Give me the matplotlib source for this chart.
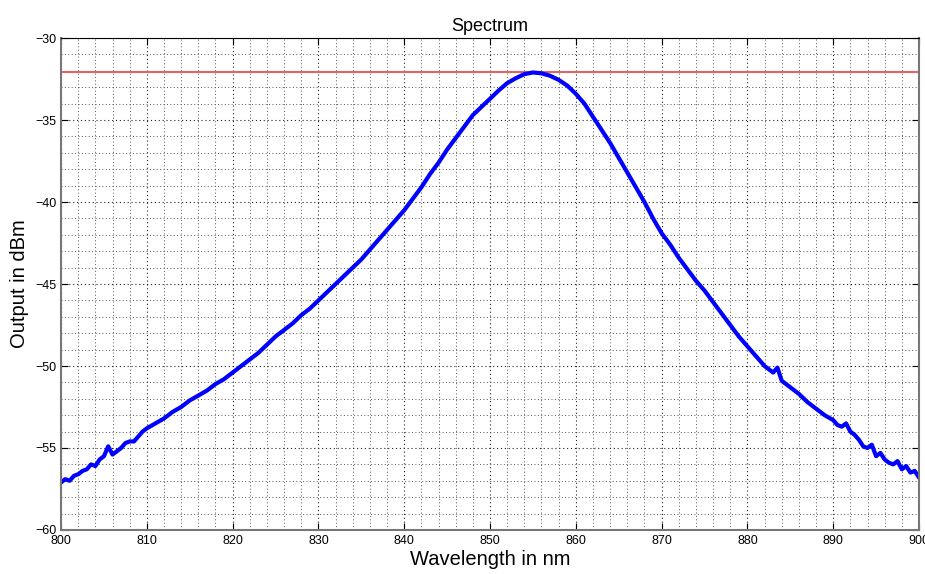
import numpy as np
from matplotlib import pyplot as plt
from matplotlib.ticker import MultipleLocator

wavelength = [800, 800.5, 801, 801.5, 802, 802.5, 803, 803.5, 804, 804.5, 805, 805.5, 806, 806.5,
              807, 807.5, 808, 808.5, 809, 809.5, 810, 811, 812, 813, 814, 815, 816, 817, 818, 819,
              820, 821, 822, 823, 824, 825, 826, 827, 828, 829, 830, 831, 832, 833, 834, 835,
              836, 837, 838, 839, 840, 841, 842, 843, 844, 845, 846, 847, 848, 849, 850, 851,
              852, 853, 854, 855, 856, 857, 858, 859, 860, 861, 862, 863, 864, 865, 866, 867,
              868, 869, 870, 871, 872, 873, 874, 875, 876, 877, 878, 879, 880, 881, 882, 883,
              883.5, 884, 885, 886, 887, 888, 889, 890, 890.5, 891, 891.5, 892, 892.5, 893, 893.5,
              894, 894.5, 895, 895.5, 896, 896.5, 897, 897.5, 898, 898.5, 899, 899.5, 900]
power_dbm = [-57.1, -56.9, -57.0, -56.7, -56.6, -56.4, -56.3, -56.0, -56.1, -55.7, -55.5, -54.9, -55.4, -55.2,
             -55.0, -54.7, -54.6, -54.6, -54.3, -54.0, -53.8, -53.5, -53.2, -52.8, -52.5, -52.1, -51.8, -51.5,
             -51.1, -50.8, -50.4, -50.0, -49.6, -49.2, -48.7, -48.2, -47.8, -47.4, -46.9, -46.5, -46.0,
             -45.5, -45.0, -44.5, -44.0, -43.5, -42.9, -42.3, -41.7, -41.1, -40.5, -39.8, -39.1, -38.3,
             -37.6, -36.8, -36.1, -35.4, -34.7, -34.2, -33.7, -33.2, -32.75, -32.45, -32.2, -32.1, -32.15,
             -32.3, -32.55, -32.9, -33.4, -34.0, -34.8, -35.6, -36.4, -37.3, -38.2, -39.1, -40.0, -41.0,
             -41.9, -42.6, -43.4, -44.1, -44.8, -45.4, -46.1, -46.8, -47.5, -48.2, -48.8, -49.4, -50.0,
             -50.4, -50.1, -50.9, -51.3, -51.7, -52.2, -52.6, -53.0, -53.3, -53.6, -53.7, -53.5, -54.0,
             -54.2, -54.5, -54.9, -55.0, -54.8, -55.5, -55.3, -55.7, -55.9, -56.0, -55.8, -56.3, -56.1,
             -56.5, -56.4, -56.8]
reference_level = -32.1

plt.rcParams.update({"font.family": "Liberation Sans", "font.size": 8})
fig = plt.figure(figsize=(9.25, 5.74), dpi=100)
ax = fig.add_axes([0.066, 0.0767, 0.9275, 0.857])

ax.axhline(reference_level, color='#e06666', lw=1.5)
ax.plot(wavelength, power_dbm, color='#0000ff', lw=3)

ax.set_xlim(800, 900)
ax.set_ylim(-60, -30)
ax.xaxis.set_major_locator(MultipleLocator(10))
ax.xaxis.set_minor_locator(MultipleLocator(2))
ax.yaxis.set_major_locator(MultipleLocator(5))
ax.yaxis.set_minor_locator(MultipleLocator(1))
ax.tick_params(which='major', direction='in', length=5, top=True, right=True, labelsize=9)
ax.tick_params(which='minor', length=0)
ax.grid(which='major', ls=(0, (1, 2.5)), color='#222222', lw=0.8)
ax.grid(which='minor', ls=(0, (1, 2.5)), color='#555555', lw=0.7)

for s in ['left', 'bottom', 'right']:
    ax.spines[s].set_color('#777777')
    ax.spines[s].set_linewidth(1.5)
ax.spines['top'].set_color('black')

ax.set_xlabel("Wavelength in nm", fontsize=14.5, labelpad=2)
ax.set_ylabel("Output in dBm", fontsize=14.5, labelpad=4)
ax.set_title("Spectrum", fontsize=13, pad=5)

fig.savefig("out.png")
